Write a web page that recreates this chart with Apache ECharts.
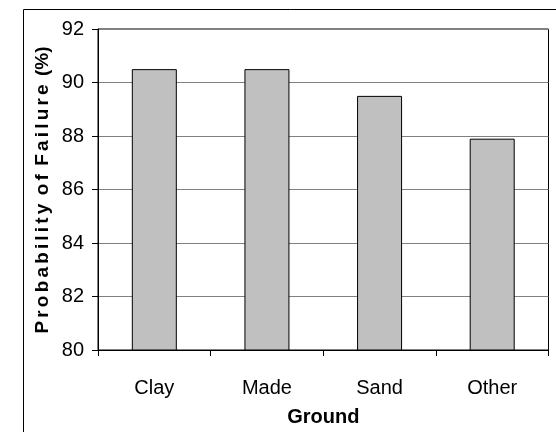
<!DOCTYPE html>
<html>
<head>
<meta charset="utf-8">
<script src="https://cdn.jsdelivr.net/npm/echarts@6/dist/echarts.min.js"></script>
<style>
html,body{margin:0;padding:0;background:#fff;}
#chart{width:556px;height:432px;}
</style>
</head>
<body>
<div id="chart"></div>
<script>
var categories = ['Clay', 'Made', 'Sand', 'Other'];
var failureProbability = [90.5, 90.5, 89.5, 87.9];
var yMin = 80, yMax = 92, yStep = 2;
var yTitle = 'Probability of Failure';

function spaced(s) {
  return s.split(' ').map(function (w) { return w.split('').join('\u2006'); }).join(' \u2006');
}

var FONT = '"Liberation Sans Narrow", "Arial Narrow", "Liberation Sans", Arial, sans-serif';
var chart = echarts.init(document.getElementById('chart'), null, {renderer: 'canvas'});
chart.setOption({
  animation: false,
  backgroundColor: '#fff',
  graphic: [{
    type: 'rect', left: 21, top: 7, z: 100,
    shape: {width: 600, height: 500},
    style: {fill: 'none', stroke: '#000', lineWidth: 1}
  }, {
    type: 'text', x: 43, y: 190, rotation: Math.PI / 2, z: 100,
    style: {
      text: spaced(yTitle) + ' \u2006(%)',
      font: 'bold 19px ' + FONT, fill: '#000',
      align: 'center', verticalAlign: 'middle'
    }
  }],
  grid: {left: 98, top: 29, right: 7.5, bottom: 80, show: true, borderColor: '#000', borderWidth: 1, backgroundColor: 'transparent'},
  xAxis: {
    type: 'category', data: categories,
    name: 'Ground', nameLocation: 'middle', nameGap: 57,
    nameTextStyle: {fontFamily: FONT, fontWeight: 'bold', fontSize: 20, color: '#000'},
    axisLine: {lineStyle: {color: '#000', width: 1}},
    axisTick: {show: true, length: 6, lineStyle: {color: '#000'}},
    axisLabel: {fontFamily: FONT, fontSize: 20, color: '#000', margin: 28}
  },
  yAxis: {
    type: 'value', min: yMin, max: yMax, interval: yStep,
    axisLine: {show: true, lineStyle: {color: '#000', width: 1}},
    axisTick: {show: true, length: 6, lineStyle: {color: '#000'}},
    axisLabel: {fontFamily: FONT, fontSize: 20, color: '#000', margin: 14},
    splitLine: {show: true, lineStyle: {color: '#808080', width: 1}}
  },
  series: [{
    type: 'bar', data: failureProbability, barWidth: 45,
    itemStyle: {color: '#c0c0c0', borderColor: '#000', borderWidth: 1}
  }]
});
</script>
</body>
</html>
